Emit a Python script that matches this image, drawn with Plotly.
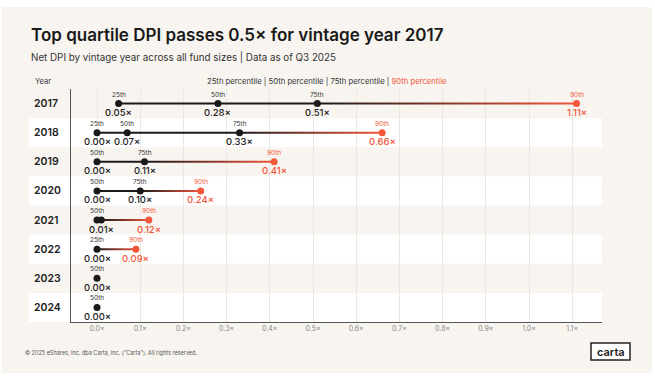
import plotly.graph_objects as go

# ---------------- data ----------------
years = [2017, 2018, 2019, 2020, 2021, 2022, 2023, 2024]
p25 = [0.05, 0.00, None, None, None, 0.00, None, None]
p50 = [0.28, 0.07, 0.00, 0.00, 0.00, None, 0.00, 0.00]
p75 = [0.51, 0.33, 0.11, 0.10, 0.01, None, None, None]
p90 = [1.11, 0.66, 0.41, 0.24, 0.12, 0.09, None, None]
pct_names = ["25th", "50th", "75th", "90th"]
x_ticks = [0.0, 0.1, 0.2, 0.3, 0.4, 0.5, 0.6, 0.7, 0.8, 0.9, 1.0, 1.1]
x_ticktext = [f"{v:.1f}×" for v in x_ticks]

# ---------------- style / layout ----------------
W, H = 655, 377
L, R, T, B = 71, 53, 89, 55
PW, PH = W - L - R, H - T - B
RED = "#f2573b"
BLACK = "#1a1a1a"
CREAM = "#f8f5f0"
FONT = "Inter"


def px_x(px):
    return (px - L) / PW


def px_y(py):
    return (H - B - py) / PH


fig = go.Figure()
shapes = []
annotations = []

# outer cream card
shapes.append(dict(type="rect", xref="paper", yref="paper", x0=px_x(2), x1=px_x(652),
                   y0=px_y(373), y1=px_y(7), fillcolor=CREAM, line=dict(width=0), layer="below"))

half = 1.0 / 29.1  # half line thickness (~2px) in row units

for i, yr in enumerate(years):
    # alternating white bands
    if i % 2 == 1:
        shapes.append(dict(type="rect", xref="paper", yref="y", x0=px_x(29), x1=1,
                           y0=i - 0.5, y1=i + 0.5, fillcolor="white", line=dict(width=0),
                           layer="below"))
    annotations.append(dict(x=px_x(32), y=i, xref="paper", yref="y", text=str(yr),
                            showarrow=False, xanchor="left", yanchor="middle",
                            font=dict(family=FONT, size=10.5, color="#222", weight=600)))

    pts = [(v, pct_names[k]) for k, v in enumerate([p25[i], p50[i], p75[i], p90[i]]) if v is not None]
    blacks = [v for v, n in pts if n != "90th"]
    # black connecting line
    if len(blacks) > 1:
        fig.add_trace(go.Scatter(x=[min(blacks), max(blacks)], y=[i, i], mode="lines",
                                 line=dict(color=BLACK, width=2), hoverinfo="skip",
                                 showlegend=False))
    # gradient segment to 90th percentile
    if p90[i] is not None and blacks:
        a, b = max(blacks), p90[i]
        fig.add_trace(go.Scatter(x=[a, b, b, a, a], y=[i - half, i - half, i + half, i + half, i - half],
                                 mode="none", fill="toself",
                                 fillgradient=dict(type="horizontal",
                                                   colorscale=[[0, BLACK], [1, RED]]),
                                 hoverinfo="skip", showlegend=False))
    # markers
    fig.add_trace(go.Scatter(x=[v for v, n in pts], y=[i] * len(pts), mode="markers",
                             marker=dict(size=7, color=[RED if n == "90th" else BLACK for v, n in pts]),
                             hoverinfo="skip", showlegend=False))
    # labels (hide overlaps when two points nearly coincide)
    show_top = [True] * len(pts)
    show_bot = [True] * len(pts)
    for k in range(1, len(pts)):
        if pts[k][0] - pts[k - 1][0] < 0.02:
            show_bot[k - 1] = False
            show_top[k] = False
    for k, (v, n) in enumerate(pts):
        col = RED if n == "90th" else "#222"
        if show_top[k]:
            annotations.append(dict(x=v, y=i, xref="x", yref="y", text=n, showarrow=False,
                                    yshift=9, font=dict(family=FONT, size=6.5,
                                                        color=RED if n == "90th" else "#333")))
        if show_bot[k]:
            annotations.append(dict(x=v, y=i, xref="x", yref="y", text=f"{v:.2f}×",
                                    showarrow=False, yshift=-9,
                                    font=dict(family=FONT, size=9.5, color=col, weight=500)))

# headers
annotations += [
    dict(x=px_x(29), y=px_y(35), xref="paper", yref="paper", xanchor="left", yanchor="middle",
         text="Top quartile DPI passes 0.5× for vintage year 2017", showarrow=False,
         font=dict(family=FONT, size=17, color=BLACK, weight=600)),
    dict(x=px_x(29), y=px_y(57), xref="paper", yref="paper", xanchor="left", yanchor="middle",
         text="Net DPI by vintage year across all fund sizes | Data as of Q3 2025", showarrow=False,
         font=dict(family=FONT, size=9.8, color="#333")),
    dict(x=px_x(33), y=px_y(81), xref="paper", yref="paper", xanchor="left", yanchor="middle",
         text="Year", showarrow=False, font=dict(family=FONT, size=7.5, color="#333")),
    dict(x=px_x(449), y=px_y(81), xref="paper", yref="paper", xanchor="right", yanchor="middle",
         text=f"25th percentile | 50th percentile | 75th percentile | <span style='color:{RED}'>90th percentile</span>",
         showarrow=False, font=dict(family=FONT, size=7.7, color="#333")),
    dict(x=px_x(23), y=px_y(352), xref="paper", yref="paper", xanchor="left", yanchor="middle",
         text="© 2025 eShares, Inc. dba Carta, Inc. (\"Carta\"). All rights reserved.", showarrow=False,
         font=dict(family=FONT, size=5.5, color="#555")),
    dict(x=px_x(610.5), y=px_y(351.5), xref="paper", yref="paper", xanchor="center", yanchor="middle",
         text="carta", showarrow=False, font=dict(family=FONT, size=11, color=BLACK, weight=600)),
]
shapes.append(dict(type="rect", xref="paper", yref="paper", x0=px_x(591), x1=px_x(630),
                   y0=px_y(360), y1=px_y(343), line=dict(color="#222", width=1.5),
                   fillcolor="white"))

fig.update_layout(
    width=W, height=H,
    margin=dict(l=L, r=R, t=T, b=B, pad=0),
    paper_bgcolor="white", plot_bgcolor=CREAM,
    shapes=shapes, annotations=annotations, showlegend=False,
    xaxis=dict(range=[-26 / 432, 505 / 432], tickvals=x_ticks, ticktext=x_ticktext,
               tickfont=dict(family=FONT, size=7, color="#888"), showline=True,
               linecolor="#555", linewidth=1, showgrid=True, gridcolor="#ebe8e3", gridwidth=1,
               zeroline=False, ticks="", fixedrange=True),
    yaxis=dict(range=[7.5, -0.5], showticklabels=False, showline=True, linecolor="#555",
               linewidth=1, showgrid=False, zeroline=False, ticks="", fixedrange=True),
)

fig.write_html("out.html", config={"displayModeBar": False},
               post_script="document.body.style.margin='0';")
